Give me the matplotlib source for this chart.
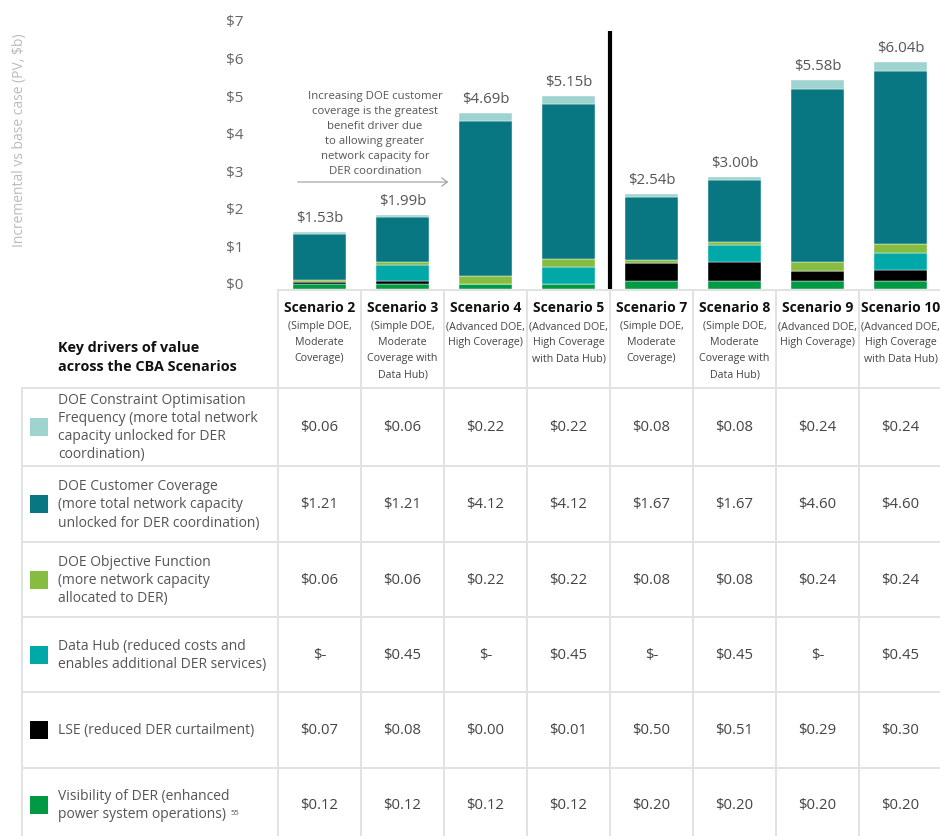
import numpy as np
import matplotlib
matplotlib.use('Agg')
import matplotlib.pyplot as plt
from matplotlib.lines import Line2D
from matplotlib.patches import Rectangle, FancyArrowPatch
from matplotlib.transforms import blended_transform_factory, ScaledTranslation

plt.rcParams['font.family'] = ['Open Sans', 'DejaVu Sans']

# 数据
scenarios = ['Scenario 2', 'Scenario 3', 'Scenario 4', 'Scenario 5',
             'Scenario 7', 'Scenario 8', 'Scenario 9', 'Scenario 10']
subtitles = ['(Simple DOE,\nModerate\nCoverage)',
             '(Simple DOE,\nModerate\nCoverage with\nData Hub)',
             '(Advanced DOE,\nHigh Coverage)',
             '(Advanced DOE,\nHigh Coverage\nwith Data Hub)',
             '(Simple DOE,\nModerate\nCoverage)',
             '(Simple DOE,\nModerate\nCoverage with\nData Hub)',
             '(Advanced DOE,\nHigh Coverage)',
             '(Advanced DOE,\nHigh Coverage\nwith Data Hub)']
constraint = [0.06, 0.06, 0.22, 0.22, 0.08, 0.08, 0.24, 0.24]
coverage = [1.21, 1.21, 4.12, 4.12, 1.67, 1.67, 4.60, 4.60]
objective = [0.06, 0.06, 0.22, 0.22, 0.08, 0.08, 0.24, 0.24]
datahub = [0, 0.45, 0, 0.45, 0, 0.45, 0, 0.45]
lse = [0.07, 0.08, 0.00, 0.01, 0.50, 0.51, 0.29, 0.30]
visibility = [0.12, 0.12, 0.12, 0.12, 0.20, 0.20, 0.20, 0.20]
totals = [1.53, 1.99, 4.69, 5.15, 2.54, 3.00, 5.58, 6.04]

# 表格行（从上到下）
row_labels = ['DOE Constraint Optimisation\nFrequency (more total network\ncapacity unlocked for DER\ncoordination)',
              'DOE Customer Coverage\n(more total network capacity\nunlocked for DER coordination)',
              'DOE Objective Function\n(more network capacity\nallocated to DER)',
              'Data Hub (reduced costs and\nenables additional DER services)',
              'LSE (reduced DER curtailment)',
              'Visibility of DER (enhanced\npower system operations)']
row_values = [constraint, coverage, objective, datahub, lse, visibility]
row_colors = ['#9fd3cf', '#087781', '#86bc40', '#00a9a8', '#000000', '#009a44']

W, H = 940, 837
fig = plt.figure(figsize=(W / 100, H / 100), dpi=100)
fy = lambda py: 1 - py / H
fx = lambda px: px / W

# 柱状图坐标轴
x0, y0, scale = 278, 290, 37.6
ax = fig.add_axes([fx(x0), fy(y0), 664 / W, 7 * scale / H])
ax.set_xlim(0, 8)
ax.set_ylim(0, 7)
for s in ax.spines.values():
    s.set_visible(False)
ax.set_xticks([])
ax.set_yticks(range(8))
ax.set_yticklabels(['$%d' % v for v in range(8)], color='#666666', fontsize=11)
ax.tick_params(axis='y', length=0, pad=25)
for lbl in ax.get_yticklabels():
    lbl.set_transform(lbl.get_transform() + ScaledTranslation(0, 0.06, fig.dpi_scale_trans))

xs = np.arange(8) + 0.5
bottom = np.zeros(8)
# 从下往上堆叠
for vals, c in zip(row_values[::-1], row_colors[::-1]):
    ax.bar(xs, vals, width=0.64, bottom=bottom, color=c, edgecolor='white', linewidth=0.3)
    bottom += np.array(vals)
for x, b, t in zip(xs, bottom, totals):
    ax.annotate('$%.2fb' % t, (x, b), xytext=(0, 5), textcoords='offset points',
                ha='center', va='bottom', fontsize=10.8, color='#555555')

ax.plot([4, 4], [0, 6.86], color='black', lw=3, solid_capstyle='butt', clip_on=False)

# 注释
note = ['Increasing DOE customer', 'coverage is the greatest', 'benefit driver due',
        'to allowing greater', 'network capacity for', 'DER coordination']
for k, line in enumerate(note):
    fig.text(fx(375), fy(97 + 14.8 * k), line, ha='center', va='center', fontsize=8.2, color='#555555')
fig.add_artist(FancyArrowPatch((fx(295), fy(183)), (fx(451), fy(183)),
               transform=fig.transFigure, arrowstyle='->,head_length=4,head_width=3',
               color='#999999', lw=0.8))

fig.text(fx(20), fy(140), 'Incremental vs base case (PV, $b)', rotation=90,
         ha='center', va='center', fontsize=10, color='#bbbbbb')

# 表格
lc = '#e2e2e2'
tr = blended_transform_factory(ax.transData, fig.transFigure)
hlines = [389, 467, 543, 618, 693, 769]
fig.add_artist(Line2D([fx(278), fx(942)], [fy(291), fy(291)], color=lc, lw=1.4))
for py in hlines:
    fig.add_artist(Line2D([fx(22), fx(942)], [fy(py), fy(py)], color=lc, lw=1.4))
fig.add_artist(Line2D([fx(22), fx(22)], [fy(389), 0], color=lc, lw=1.4))
for i in range(8):
    px = x0 + 83 * i
    fig.add_artist(Line2D([fx(px), fx(px)], [fy(291), 0], color=lc, lw=1.4))

for i in range(8):
    fig.text(xs[i], fy(308), scenarios[i], transform=tr, ha='center', va='center',
             fontsize=10, fontweight='bold', color='#111111')
    for k, line in enumerate(subtitles[i].split('\n')):
        fig.text(xs[i], fy(327 + 16 * k), line, transform=tr, ha='center', va='center',
                 fontsize=7.7, color='#444444')

fig.text(fx(58), fy(348), 'Key drivers of value', ha='left', va='center',
         fontsize=10.4, fontweight='bold', color='#111111')
fig.text(fx(58), fy(367), 'across the CBA Scenarios', ha='left', va='center',
         fontsize=10.4, fontweight='bold', color='#111111')

row_tops = hlines
row_bots = hlines[1:] + [843]
last = None
for r in range(6):
    cy = (row_tops[r] + row_bots[r]) / 2
    lines = row_labels[r].split('\n')
    n = len(lines)
    for k, line in enumerate(lines):
        last = fig.text(fx(58), fy(cy + 18 * (k - (n - 1) / 2)), line, ha='left', va='center',
                        fontsize=10, color='#555555')
    fig.add_artist(Rectangle((fx(30), fy(cy + 9)), 18 / W, 18 / H, transform=fig.transFigure,
                             facecolor=row_colors[r], edgecolor='none'))
    for i in range(8):
        v = row_values[r][i]
        txt = '$-' if (r == 3 and v == 0) else '$%.2f' % v
        fig.text(xs[i], fy(cy), txt, transform=tr, ha='center', va='center',
                 fontsize=10.7, color='#444444')
# 上标 55
ax.annotate('55', xy=(1, 1), xycoords=last, xytext=(3, -2), textcoords='offset points',
            ha='left', va='top', fontsize=5.5, color='#555555')

fig.savefig('out.png', dpi=100)
